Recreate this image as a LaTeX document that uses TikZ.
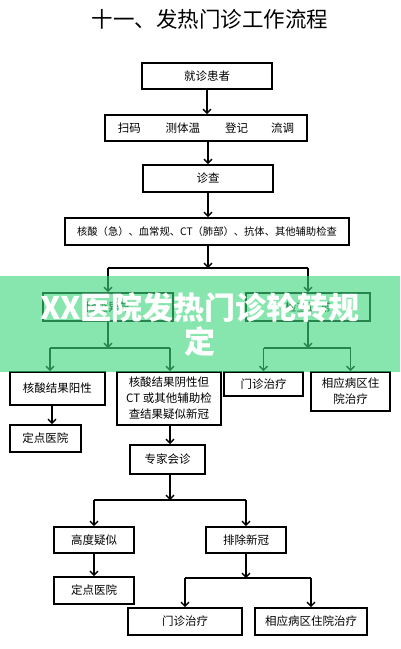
\documentclass[tikz,border=0pt]{standalone}
\usepackage{fontspec}
\setmainfont{Noto Sans CJK SC}
\usetikzlibrary{arrows.meta}
\definecolor{bannergreen}{RGB}{62,215,123}
\begin{document}
\begin{tikzpicture}[x=1pt,y=-1pt,
  box/.style={draw=black,line width=2pt,fill=white,inner sep=0pt,align=center,
    font=\fontsize{11.5}{15}\selectfont},
  arr/.style={line width=1.6pt,-{Straight Barb[length=4pt,width=8pt,line width=1.4pt]}},
  ln/.style={line width=1.6pt}]
\useasboundingbox (0,0) rectangle (400,649);
\fill[white] (0,0) rectangle (400,649);
\node[font=\fontsize{21.5}{25}\selectfont] (title) at (210,19) {十一、发热门诊工作流程};

\node[box,minimum width=130pt,minimum height=26pt] (b1) at (207,76) {就诊患者};
\node[box,minimum width=202pt,minimum height=26pt] (b2) at (206,128)
  {扫码\hspace{25pt}测体温\hspace{25pt}登记\hspace{23pt}流调};
\node[box,minimum width=130pt,minimum height=27pt] (b3) at (208,178.5) {诊查};
\node[box,minimum width=284pt,minimum height=27pt,font=\fontsize{10.3}{13}\selectfont] (b4) at (207,231.5)
  {核酸（急）、血常规、CT（肺部）、抗体、其他辅助检查};
\node[box,minimum width=130pt,minimum height=28pt] (b5L) at (108,307) {检查异常};
\node[box,minimum width=124pt,minimum height=28pt] (b5R) at (308,307) {检查正常};

\node[box,minimum width=95pt,minimum height=33pt] (c1) at (57.5,388.5) {核酸结果阳性};
\node[box,minimum width=104pt,minimum height=53pt,font=\fontsize{11.5}{16}\selectfont] (c2) at (169,398.5)
  {核酸结果阴性但\\CT 或其他辅助检\\查结果疑似新冠};
\node[box,minimum width=79pt,minimum height=24pt] (c3) at (263.5,384) {门诊治疗};
\node[box,minimum width=79pt,minimum height=39pt,font=\fontsize{11.5}{16}\selectfont] (c4) at (350.5,391.5)
  {相应病区住\\院治疗};
\node[box,minimum width=71pt,minimum height=27pt] (d1) at (45.5,438.5) {定点医院};
\node[box,minimum width=75pt,minimum height=29pt] (d2) at (167.5,459.5) {专家会诊};
\node[box,minimum width=80pt,minimum height=26pt] (e1) at (94,540) {高度疑似};
\node[box,minimum width=80pt,minimum height=26pt] (e2) at (246,540) {排除新冠};
\node[box,minimum width=80pt,minimum height=27pt] (f1) at (94,590.5) {定点医院};
\node[box,minimum width=114pt,minimum height=27pt] (g1) at (185,621.5) {门诊治疗};
\node[box,minimum width=112pt,minimum height=27pt] (g2) at (311,621.5) {相应病区住院治疗};

% junction points
\coordinate (j1) at (208,268);
\coordinate (j1L) at (108,268);
\coordinate (j1R) at (308,268);
\coordinate (j2) at (108,348);
\coordinate (j2L) at (50,348);
\coordinate (j2R) at (170,348);
\coordinate (j3) at (308,348);
\coordinate (j3L) at (263.5,348);
\coordinate (j3R) at (350.5,348);
\coordinate (j4) at (170,500);
\coordinate (j4L) at (94,500);
\coordinate (j4R) at (246,500);
\coordinate (j5) at (246,578);
\coordinate (j5L) at (185,578);
\coordinate (j5R) at (311,578);

\draw[arr] (b1.south) -- (b1.south |- b2.north);
\draw[arr] (b3.north |- b2.south) -- (b3.north);
\draw[arr] (b3.south) -- (b3.south |- b4.north);
\draw[arr] (b4.south -| j1) -- (j1);
\draw[ln] (j1L) -- (j1R);
\draw[arr] (j1L) -- (b5L.north);
\draw[arr] (j1R) -- (b5R.north);

\draw[arr] (b5L.south) -- (j2);
\draw[ln] (j2L) -- (j2R);
\draw[arr] (j2L) -- (j2L |- c1.north);
\draw[arr] (j2R) -- (j2R |- c2.north);
\draw[arr] (b5R.south) -- (j3);
\draw[ln] (j3L) -- (j3R);
\draw[arr] (j3L) -- (c3.north);
\draw[arr] (j3R) -- (c4.north);

\draw[arr] ([xshift=-5.5pt]c1.south) -- ([xshift=-5.5pt]c1.south |- d1.north);
\draw[arr] (j2R |- c2.south) -- (j2R |- d2.north);
\draw[arr] (j2R |- d2.south) -- (j4);
\draw[ln] (j4L) -- (j4R);
\draw[arr] (j4L) -- (e1.north);
\draw[arr] (j4R) -- (e2.north);
\draw[arr] (e1.south) -- (f1.north);
\draw[arr] (e2.south) -- (j5);
\draw[ln] (j5L) -- (j5R);
\draw[arr] (j5L) -- (g1.north);
\draw[arr] (j5R) -- (g2.north);

% banner overlay
\fill[bannergreen,opacity=0.62] (0,276) rectangle (400,372);
\node[text=white,align=center,font=\fontsize{31}{34}\selectfont\bfseries] (banner) at (200,325)
  {XX医院发热门诊轮转规\\定};
\end{tikzpicture}
\end{document}
